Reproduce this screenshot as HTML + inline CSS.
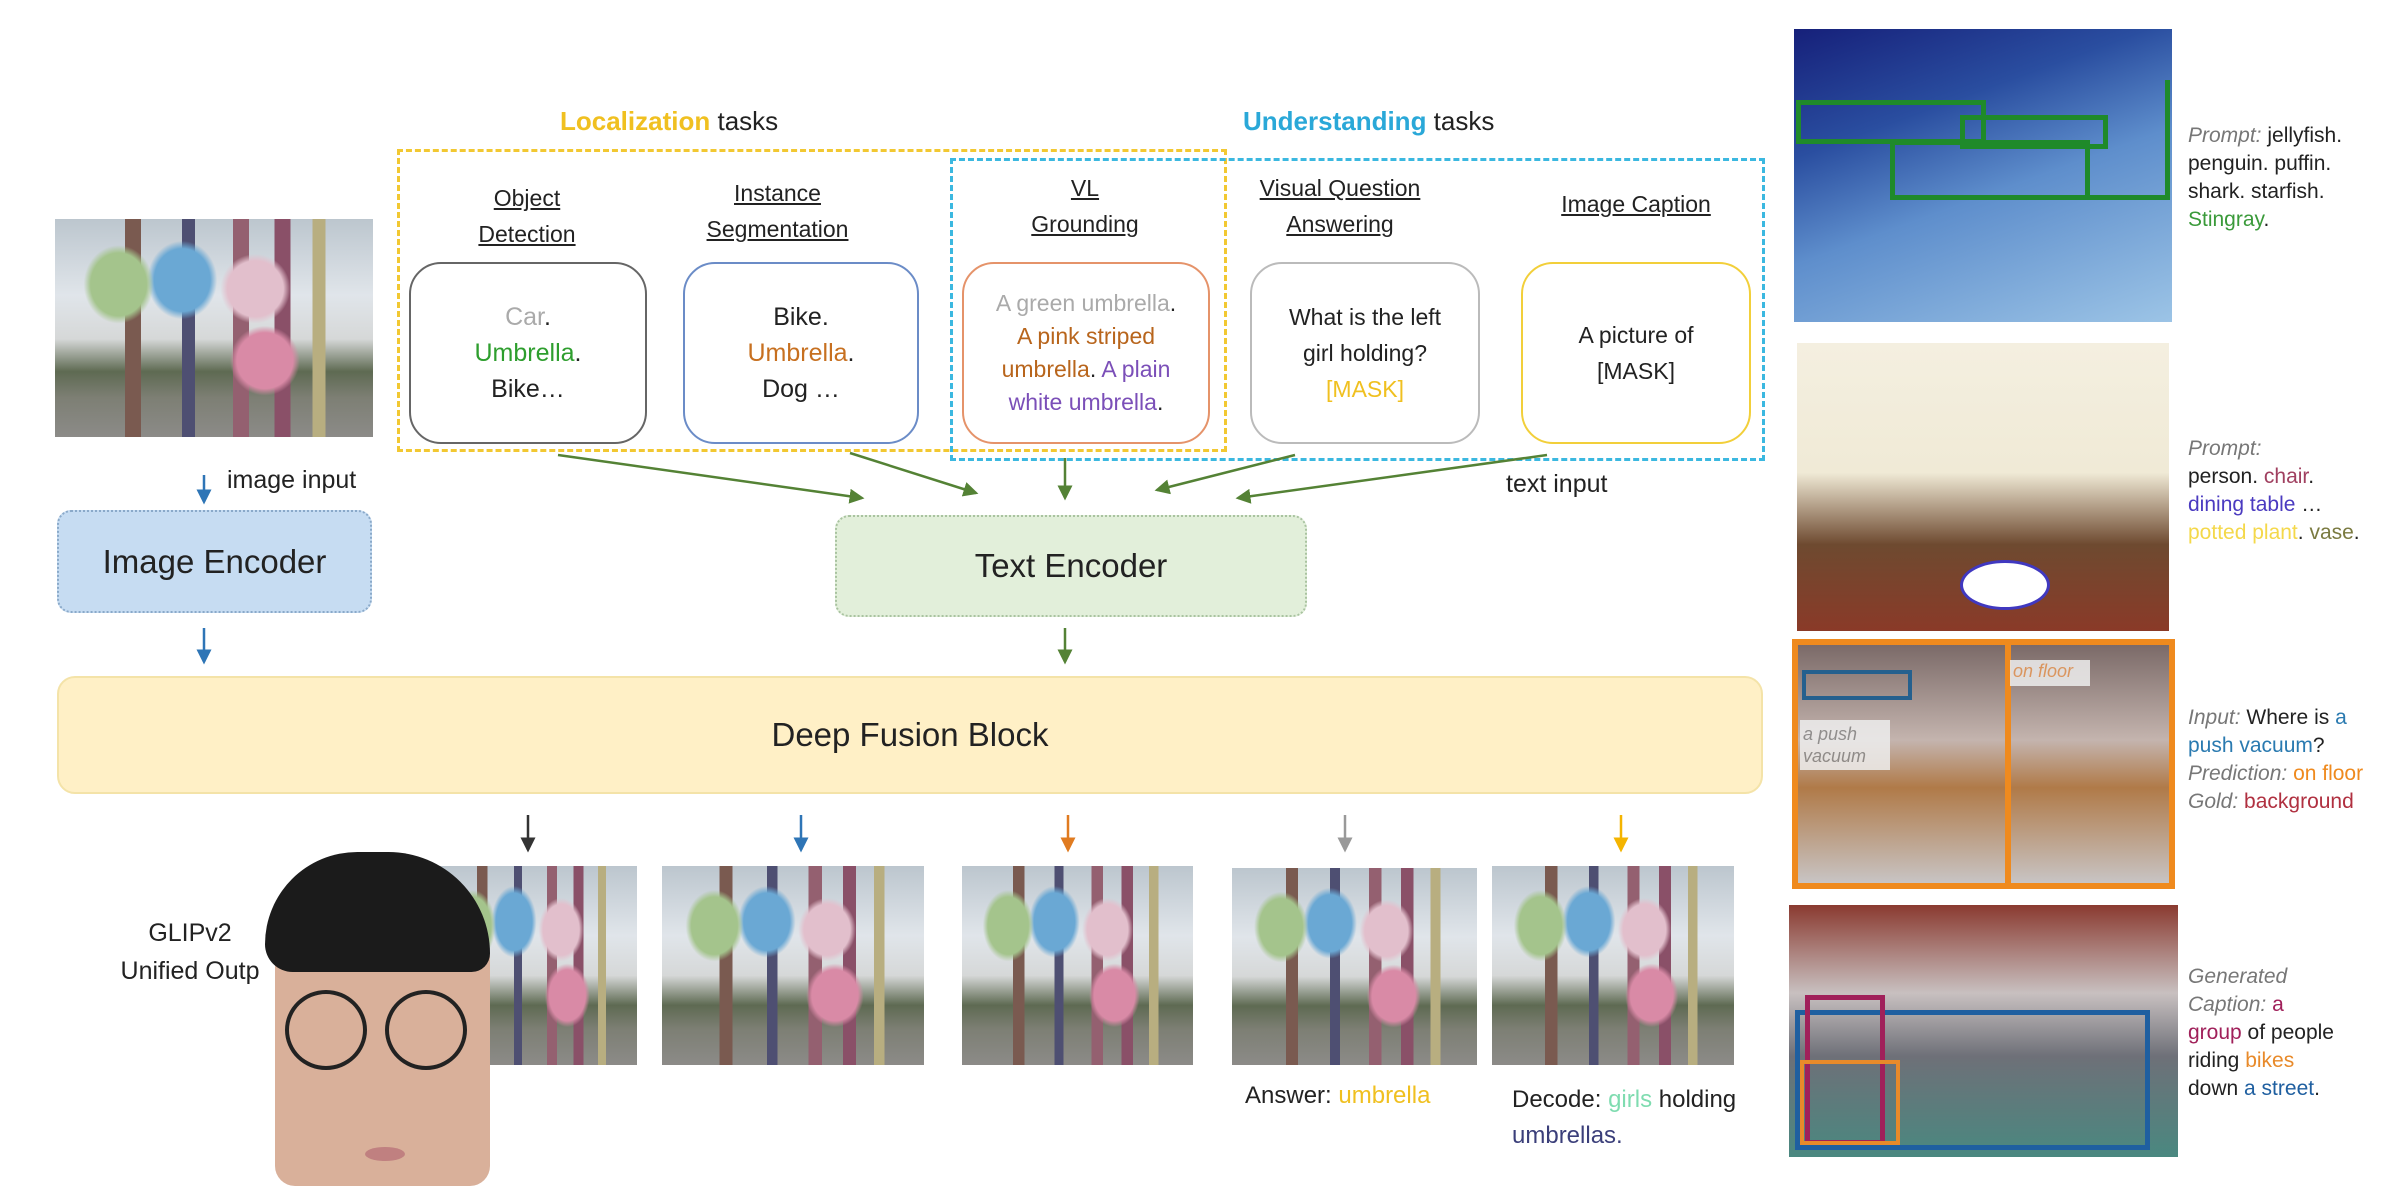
<!DOCTYPE html>
<html><head><meta charset="utf-8"><style>
*{margin:0;padding:0;box-sizing:border-box}
body{width:2402px;height:1186px;background:#fff;position:relative;overflow:hidden;font-family:"Liberation Sans","Noto Sans CJK SC",sans-serif;color:#222}
.a{position:absolute}
.c{text-align:center}
.h{position:absolute;text-align:center;font-size:23px;line-height:36px;text-decoration:underline;color:#222}
.bx{position:absolute;border:2.5px solid;border-radius:32px;display:flex;align-items:center;justify-content:center;text-align:center;font-size:25px;line-height:36px}
.photo{position:absolute;overflow:hidden;background:
radial-gradient(ellipse 11% 16% at 66% 65%,#d98aa6 80%,transparent 100%),
radial-gradient(ellipse 11% 18% at 20% 30%,#a4c48c 80%,transparent 100%),
radial-gradient(ellipse 11% 18% at 40% 28%,#6aa8d4 80%,transparent 100%),
radial-gradient(ellipse 11% 16% at 63% 32%,#e2bfcc 80%,transparent 100%),
linear-gradient(90deg,transparent 22%,#7a5a50 22%,#7a5a50 27%,transparent 27%,transparent 40%,#4e4f72 40%,#4e4f72 44%,transparent 44%,transparent 56%,#946070 56%,#946070 61%,transparent 61%,transparent 69%,#8a5068 69%,#8a5068 74%,transparent 74%,transparent 81%,#b8ae80 81%,#b8ae80 85%,transparent 85%),
linear-gradient(180deg,#bcc6ce 0%,#e0e5ea 35%,#d6d8d8 55%,#5e6a52 70%,#7d7f74 82%,#8c8b88 100%)}
.rt{position:absolute;left:2188px;font-size:21px;line-height:28px;color:#222}
.rt i{color:#777}
</style></head><body>

<div class="a" style="left:560px;top:106px;font-size:26px"><span style="color:#f0c020;font-weight:bold">Localization</span> tasks</div>
<div class="a" style="left:1243px;top:106px;font-size:26px"><span style="color:#2aa8d8;font-weight:bold">Understanding</span> tasks</div>

<div class="a" style="left:397px;top:149px;width:830px;height:303px;border:3px dashed #f2c832"></div>
<div class="a" style="left:950px;top:158px;width:815px;height:303px;border:3px dashed #3bb8e0"></div>

<div class="photo" style="left:55px;top:219px;width:318px;height:218px"></div>

<div class="h" style="left:427px;top:180px;width:200px">Object<br>Detection</div>
<div class="h" style="left:670px;top:175px;width:215px">Instance<br>Segmentation</div>
<div class="h" style="left:985px;top:170px;width:200px">VL<br>Grounding</div>
<div class="h" style="left:1240px;top:170px;width:200px">Visual Question<br>Answering</div>
<div class="h" style="left:1536px;top:186px;width:200px">Image Caption</div>

<div class="bx" style="left:409px;top:262px;width:238px;height:182px;border-color:#666"><div><span style="color:#aaa">Car</span>.<br><span style="color:#2e9e2e">Umbrella</span>.<br>Bike…</div></div>
<div class="bx" style="left:683px;top:262px;width:236px;height:182px;border-color:#6b8cc7"><div>Bike.<br><span style="color:#c77020">Umbrella</span>.<br>Dog …</div></div>
<div class="bx" style="left:962px;top:262px;width:248px;height:182px;border-color:#e5936a;font-size:23px;line-height:33px"><div><span style="color:#aaa">A green umbrella</span>.<br><span style="color:#b8651c">A pink striped<br>umbrella</span>. <span style="color:#7b4fb8">A plain<br>white umbrella</span>.</div></div>
<div class="bx" style="left:1250px;top:262px;width:230px;height:182px;border-color:#bbb;font-size:23px"><div>What is the left<br>girl holding?<br><span style="color:#f0c020">[MASK]</span></div></div>
<div class="bx" style="left:1521px;top:262px;width:230px;height:182px;border-color:#f2cf3a;font-size:23px"><div>A picture of<br>[MASK]</div></div>

<div class="a" style="left:227px;top:466px;font-size:25px">image input</div>
<div class="a" style="left:1506px;top:470px;font-size:25px">text input</div>
<div class="a c" style="left:57px;top:510px;width:315px;height:103px;background:#c6dcf2;border:2px dotted #8aa9c9;border-radius:14px;font-size:33px;line-height:99px">Image Encoder</div>
<div class="a c" style="left:835px;top:515px;width:472px;height:102px;background:#e2efda;border:2px dotted #a9c3a0;border-radius:14px;font-size:33px;line-height:98px">Text Encoder</div>
<div class="a c" style="left:57px;top:676px;width:1706px;height:118px;background:#fff0c6;border:2px solid #f4e3a8;border-radius:18px;font-size:33px;line-height:114px">Deep Fusion Block</div>

<svg class="a" style="left:0;top:0" width="2402" height="1186">
<defs>
<marker id="g" markerWidth="6" markerHeight="6" refX="5" refY="3" orient="auto" markerUnits="strokeWidth"><path d="M0,0 L6,3 L0,6 z" fill="#548235"/></marker>
<marker id="b" markerWidth="6" markerHeight="6" refX="5" refY="3" orient="auto" markerUnits="strokeWidth"><path d="M0,0 L6,3 L0,6 z" fill="#2e75b6"/></marker>
<marker id="k" markerWidth="6" markerHeight="6" refX="5" refY="3" orient="auto" markerUnits="strokeWidth"><path d="M0,0 L6,3 L0,6 z" fill="#333"/></marker>
<marker id="o" markerWidth="6" markerHeight="6" refX="5" refY="3" orient="auto" markerUnits="strokeWidth"><path d="M0,0 L6,3 L0,6 z" fill="#e07b20"/></marker>
<marker id="y" markerWidth="6" markerHeight="6" refX="5" refY="3" orient="auto" markerUnits="strokeWidth"><path d="M0,0 L6,3 L0,6 z" fill="#f4b400"/></marker>
<marker id="s" markerWidth="6" markerHeight="6" refX="5" refY="3" orient="auto" markerUnits="strokeWidth"><path d="M0,0 L6,3 L0,6 z" fill="#999"/></marker>
</defs>
<g stroke="#548235" stroke-width="2.5" marker-end="url(#g)">
<line x1="558" y1="455" x2="862" y2="498"/>
<line x1="850" y1="453" x2="976" y2="493"/>
<line x1="1065" y1="458" x2="1065" y2="498"/>
<line x1="1295" y1="455" x2="1157" y2="490"/>
<line x1="1547" y1="455" x2="1238" y2="498"/>
<line x1="1065" y1="628" x2="1065" y2="662"/>
</g>
<g stroke="#2e75b6" stroke-width="2.5" marker-end="url(#b)">
<line x1="204" y1="475" x2="204" y2="502"/>
<line x1="204" y1="628" x2="204" y2="662"/>
<line x1="801" y1="815" x2="801" y2="850"/>
</g>
<line x1="528" y1="815" x2="528" y2="850" stroke="#333" stroke-width="2.5" marker-end="url(#k)"/>
<line x1="1068" y1="815" x2="1068" y2="850" stroke="#e07b20" stroke-width="2.5" marker-end="url(#o)"/>
<line x1="1345" y1="815" x2="1345" y2="850" stroke="#999" stroke-width="2.5" marker-end="url(#s)"/>
<line x1="1621" y1="815" x2="1621" y2="850" stroke="#f4b400" stroke-width="2.5" marker-end="url(#y)"/>
</svg>

<div class="photo" style="left:432px;top:866px;width:205px;height:199px"></div>
<div class="photo" style="left:662px;top:866px;width:262px;height:199px"></div>
<div class="photo" style="left:962px;top:866px;width:231px;height:199px"></div>
<div class="photo" style="left:1232px;top:868px;width:245px;height:197px"></div>
<div class="photo" style="left:1492px;top:866px;width:242px;height:199px"></div>

<div class="a c" style="left:90px;top:914px;width:200px;font-size:25px;line-height:38px">GLIPv2<br>Unified Outp</div>
<div class="a" style="left:1245px;top:1082px;font-size:24px">Answer: <span style="color:#f0c020">umbrella</span></div>
<div class="a" style="left:1512px;top:1082px;font-size:24px;line-height:36px">Decode: <span style="color:#7fdcb0">girls</span> holding<br><span style="color:#3b3f7a">umbrellas.</span></div>

<div class="a" style="left:275px;top:868px;width:215px;height:318px;background:#d9b09a;border-radius:90px 90px 20px 20px"></div>
<div class="a" style="left:265px;top:852px;width:225px;height:120px;background:#1b1b1b;border-radius:100px 110px 20px 30px"></div>
<div class="a" style="left:285px;top:990px;width:82px;height:80px;border:4px solid #222;border-radius:50%"></div>
<div class="a" style="left:385px;top:990px;width:82px;height:80px;border:4px solid #222;border-radius:50%"></div>
<div class="a" style="left:365px;top:1147px;width:40px;height:14px;background:#c08080;border-radius:50%"></div>

<div class="a" style="left:1794px;top:29px;width:378px;height:293px;background:linear-gradient(160deg,#16207a 0%,#2a4ea0 30%,#5e8ecc 55%,#9cc4e6 100%)"></div>
<div class="a" style="left:1796px;top:100px;width:190px;height:44px;border:5px solid #1f8a2a"></div>
<div class="a" style="left:1960px;top:115px;width:148px;height:34px;border:5px solid #1f8a2a"></div>
<div class="a" style="left:1890px;top:140px;width:200px;height:60px;border:5px solid #1f8a2a"></div>
<div class="a" style="left:1970px;top:80px;width:200px;height:120px;border:5px solid #1f8a2a;border-left:none;border-top:none"></div>

<div class="a" style="left:1797px;top:343px;width:372px;height:288px;background:linear-gradient(180deg,#f4efe0 0%,#f0ead6 45%,#6e4a30 70%,#8a3a28 100%)"></div>
<div class="a" style="left:1960px;top:560px;width:90px;height:50px;border:3px solid #4038c0;border-radius:50%;background:#fff"></div>

<div class="a" style="left:1792px;top:639px;width:383px;height:250px;background:linear-gradient(180deg,#7b6a68 0%,#c4b4ae 40%,#b07a48 60%,#c8c4c4 100%);border:6px solid #ef8a1e"></div>
<div class="a" style="left:2005px;top:645px;width:6px;height:240px;background:#ef8a1e"></div>
<div class="a" style="left:1802px;top:670px;width:110px;height:30px;border:4px solid #25608e"></div>
<div class="a" style="left:1800px;top:720px;width:90px;height:50px;background:#eee;opacity:.85;font-size:18px;color:#888;font-style:italic;line-height:22px;padding:3px">a push<br>vacuum</div>
<div class="a" style="left:2010px;top:660px;width:80px;height:26px;background:#eee;opacity:.85;font-size:18px;color:#e89a5a;font-style:italic;padding:1px 3px">on floor</div>

<div class="a" style="left:1789px;top:905px;width:389px;height:252px;background:linear-gradient(180deg,#8a3a30 0%,#c8c0c0 35%,#6e7078 60%,#4a8880 100%)"></div>
<div class="a" style="left:1795px;top:1010px;width:355px;height:140px;border:5px solid #1f5fa0"></div>
<div class="a" style="left:1805px;top:995px;width:80px;height:150px;border:5px solid #a0205a"></div>
<div class="a" style="left:1800px;top:1060px;width:100px;height:85px;border:4px solid #e88a2a"></div>

<div class="rt" style="top:122px"><i>Prompt:</i> jellyfish.<br>penguin. puffin.<br>shark. starfish.<br><span style="color:#3a9a3a">Stingray</span>.</div>
<div class="rt" style="top:435px"><i>Prompt:</i><br>person. <span style="color:#a04060">chair</span>.<br><span style="color:#4a3ac0">dining table</span> …<br><span style="color:#f4d84a">potted plant</span>. <span style="color:#7a7a40">vase</span>.</div>
<div class="rt" style="top:704px;line-height:28px"><i>Input:</i> Where is <span style="color:#2a7ab0">a<br>push vacuum</span>?<br><i>Prediction:</i> <span style="color:#ef8a1e">on floor</span><br><i>Gold:</i> <span style="color:#b03040">background</span></div>
<div class="rt" style="top:963px"><i>Generated<br>Caption:</i> <span style="color:#a0205a">a<br>group</span> of people<br>riding <span style="color:#e88a2a">bikes</span><br>down <span style="color:#1f5fa0">a street</span>.</div>

</body></html>
